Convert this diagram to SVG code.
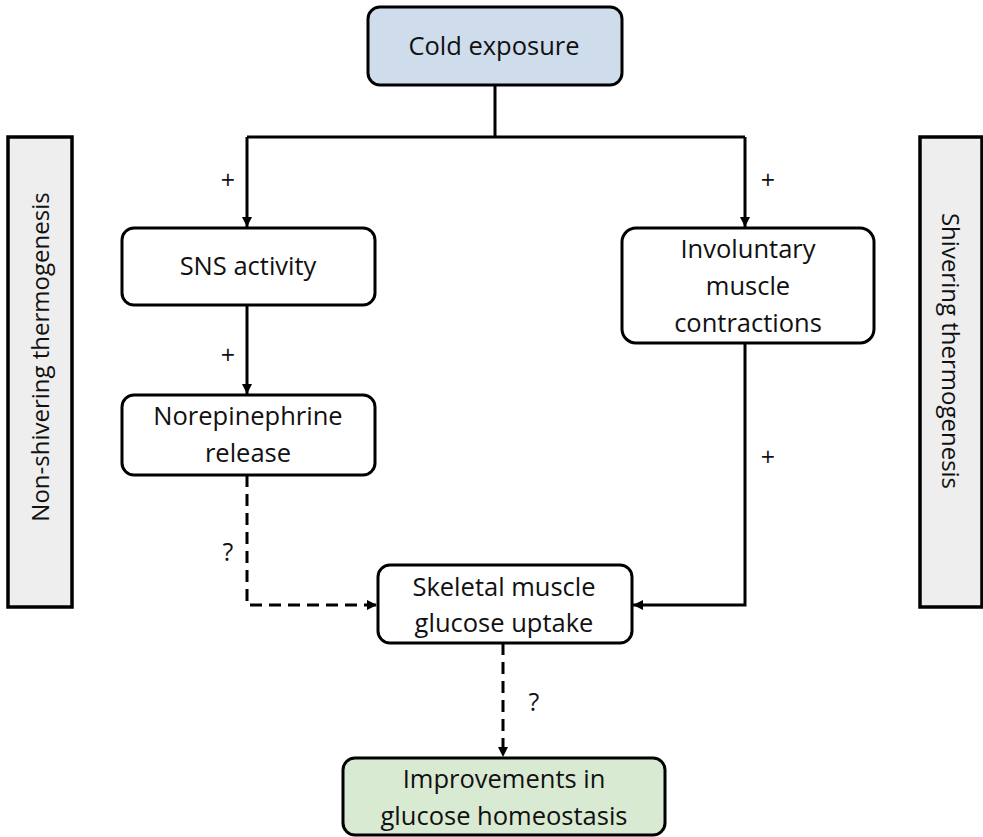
<svg xmlns="http://www.w3.org/2000/svg" width="983" height="837" viewBox="0 0 983 837">
<defs>
<style>
.node{fill:#ffffff;stroke:#000;stroke-width:3}
.side{fill:#eeeeee;stroke:#000;stroke-width:3.5}
.t{font-family:"Open Sans","Liberation Sans",sans-serif;font-size:25.5px;fill:#111;text-anchor:middle}
.r{font-family:"Open Sans","Liberation Sans",sans-serif;font-size:24px;fill:#111;text-anchor:middle}
.s{font-family:"Open Sans","Liberation Sans",sans-serif;font-size:25px;fill:#111;text-anchor:middle}
.ln{fill:none;stroke:#000;stroke-width:3}
.dash{stroke-dasharray:12 7}
</style>
<marker id="ah" viewBox="0 0 10 10" refX="10" refY="5" markerWidth="10" markerHeight="10" markerUnits="userSpaceOnUse" orient="auto">
<path d="M0,0 L10,5 L0,10 z" fill="#000"/>
</marker>
</defs>
<rect width="983" height="837" fill="#fff"/>
<g id="connectors">
<path class="ln" d="M495,85 V137"/>
<path class="ln" d="M247,137 H745"/>
<path class="ln" d="M247,137 V227" marker-end="url(#ah)"/>
<path class="ln" d="M745,137 V227" marker-end="url(#ah)"/>
<path class="ln" d="M247,305 V394" marker-end="url(#ah)"/>
<path class="ln" d="M745,343 V605 H633" marker-end="url(#ah)"/>
<path class="ln dash" d="M247,475 V605 H377" marker-end="url(#ah)"/>
<path class="ln dash" d="M503,643 V757" marker-end="url(#ah)"/>
<text class="s" x="228" y="189">+</text>
<text class="s" x="768" y="189">+</text>
<text class="s" x="228" y="364">+</text>
<text class="s" x="768" y="466">+</text>
<text class="s" x="228" y="561">?</text>
<text class="s" x="534" y="711">?</text>
</g>
<g id="side-left">
<rect class="side" x="8" y="137" width="64" height="470"/>
<text class="r" transform="translate(49,357) rotate(-90)">Non-shivering thermogenesis</text>
</g>
<g id="side-right">
<rect class="side" x="920" y="137" width="62" height="470"/>
<text class="r" transform="translate(942,351) rotate(90)">Shivering thermogenesis</text>
</g>
<g id="cold">
<rect class="node" x="368" y="7" width="254" height="78" rx="12" style="fill:#cfdcec"/>
<text class="t" x="494" y="55">Cold exposure</text>
</g>
<g id="sns">
<rect class="node" x="122" y="228" width="253" height="77" rx="12"/>
<text class="t" x="248" y="275">SNS activity</text>
</g>
<g id="involuntary">
<rect class="node" x="622" y="228" width="252" height="115" rx="14"/>
<text class="t" x="748" y="258">Involuntary</text>
<text class="t" x="748" y="295">muscle</text>
<text class="t" x="748" y="332">contractions</text>
</g>
<g id="norepinephrine">
<rect class="node" x="122" y="395" width="253" height="80" rx="12"/>
<text class="t" x="248" y="425">Norepinephrine</text>
<text class="t" x="248" y="462">release</text>
</g>
<g id="skeletal">
<rect class="node" x="378" y="565" width="254" height="78" rx="12"/>
<text class="t" x="504" y="596">Skeletal muscle</text>
<text class="t" x="504" y="632">glucose uptake</text>
</g>
<g id="improvements">
<rect class="node" x="343" y="758" width="322" height="77" rx="12" style="fill:#d9ead3"/>
<text class="t" x="504" y="788">Improvements in</text>
<text class="t" x="504" y="825">glucose homeostasis</text>
</g>
</svg>
